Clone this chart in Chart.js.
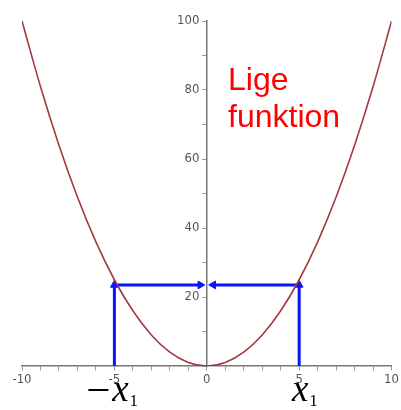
<!DOCTYPE html>
<html>
<head>
<meta charset="utf-8">
<script src="https://cdn.jsdelivr.net/npm/chart.js@4/dist/chart.umd.min.js"></script>
<style>
  body { margin: 0; background: #fff; }
  #wrap { width: 401px; height: 410px; }
</style>
</head>
<body>
<div id="wrap"><canvas id="chart"></canvas></div>
<script>
// parabola
const curveX = [-10, -9, -8, -7, -6, -5, -4, -3, -2, -1, 0, 1, 2, 3, 4, 5, 6, 7, 8, 9, 10];
const curveY = [100, 81, 64, 49, 36, 25, 16, 9, 4, 1, 0, 1, 4, 9, 16, 25, 36, 49, 64, 81, 100];

// blue arrows
const arrowLevel = 23.5;
const leftUpX = [-5, -5];
const leftUpY = [0, arrowLevel];
const leftAcrossX = [-5, -0.35];
const rightUpX = [5, 5];
const rightUpY = [0, arrowLevel];
const rightAcrossX = [5, 0.35];

const xTicks = [-10, -5, 0, 5, 10];
const yTicks = [20, 40, 60, 80, 100];

const pts = (xs, ys) => xs.map((x, i) => ({ x: x, y: ys[i] }));
const blue = '#0a14ff';
const tickFont = { size: 13, family: '"DejaVu Sans Condensed", "Liberation Sans Narrow", sans-serif' };

function arrow(xs, ys, rot) {
    return {
        data: pts(xs, ys),
        showLine: true,
        borderColor: blue,
        backgroundColor: blue,
        borderWidth: 3,
        pointStyle: 'triangle',
        pointRadius: [0, 4.5],
        pointRotation: [0, rot],
        pointBorderWidth: 1
    };
}

const labelsPlugin = {
    id: 'labels',
    afterDraw(chart) {
        const ctx = chart.ctx;
        const xs = chart.scales.x, ys = chart.scales.y;
        ctx.save();
        // red text
        ctx.fillStyle = '#ff0000';
        ctx.font = '32px "Liberation Sans", Arial, sans-serif';
        ctx.textAlign = 'left';
        ctx.textBaseline = 'alphabetic';
        ctx.fillText('Lige', xs.getPixelForValue(1.15), ys.getPixelForValue(80));
        ctx.fillText('funktion', xs.getPixelForValue(1.15), ys.getPixelForValue(69.3));

        // -x1 and x1 under the axis
        const base = chart.chartArea.bottom + 35;
        ctx.fillStyle = '#000';
        const drawX = (cx) => {
            ctx.font = 'italic 37px "Liberation Serif", "Times New Roman", serif';
            ctx.textAlign = 'center';
            ctx.fillText('x', cx, base);
            ctx.font = '17px "Liberation Serif", serif';
            ctx.textAlign = 'left';
            ctx.fillText('1', cx + 9, base + 5);
        };
        const lx = xs.getPixelForValue(-5) + 6;
        ctx.fillRect(lx - 32, base - 12, 20, 2);
        drawX(lx);
        drawX(xs.getPixelForValue(5) + 1);
        ctx.restore();
    }
};

new Chart(document.getElementById('chart'), {
    type: 'scatter',
    data: {
        datasets: [
            {
                data: pts(curveX, curveY),
                showLine: true,
                borderColor: '#a3393f',
                borderWidth: 1.6,
                pointRadius: 0,
                cubicInterpolationMode: 'monotone'
            },
            arrow(leftUpX, leftUpY, 0),
            arrow(leftAcrossX, [arrowLevel, arrowLevel], 90),
            arrow(rightUpX, rightUpY, 0),
            arrow(rightAcrossX, [arrowLevel, arrowLevel], -90)
        ]
    },
    options: {
        responsive: true,
        maintainAspectRatio: false,
        animation: false,
        layout: { padding: { left: 22, right: 9, top: 21, bottom: 44 } },
        plugins: { legend: { display: false }, tooltip: { enabled: false } },
        scales: {
            x: {
                type: 'linear',
                position: { y: 0 },
                min: -10,
                max: 10,
                ticks: {
                    stepSize: 1,
                    autoSkip: false,
                    maxRotation: 0,
                    padding: 2,
                    color: '#555',
                    font: tickFont,
                    callback: v => xTicks.includes(v) ? String(v) : ''
                },
                grid: { drawOnChartArea: false, tickLength: 4, color: '#999' },
                border: { color: '#777', width: 1.5 }
            },
            y: {
                type: 'linear',
                position: { x: 0 },
                min: 0,
                max: 100,
                ticks: {
                    stepSize: 10,
                    autoSkip: false,
                    color: '#555',
                    font: tickFont,
                    // trailing spaces push the right-aligned labels off the axis
                    callback: v => yTicks.includes(v) ? String(v) + '  ' : ''
                },
                grid: { drawOnChartArea: false, tickLength: 4, color: '#999' },
                border: { color: '#777', width: 1.5 }
            }
        }
    },
    plugins: [labelsPlugin]
});
</script>
</body>
</html>
